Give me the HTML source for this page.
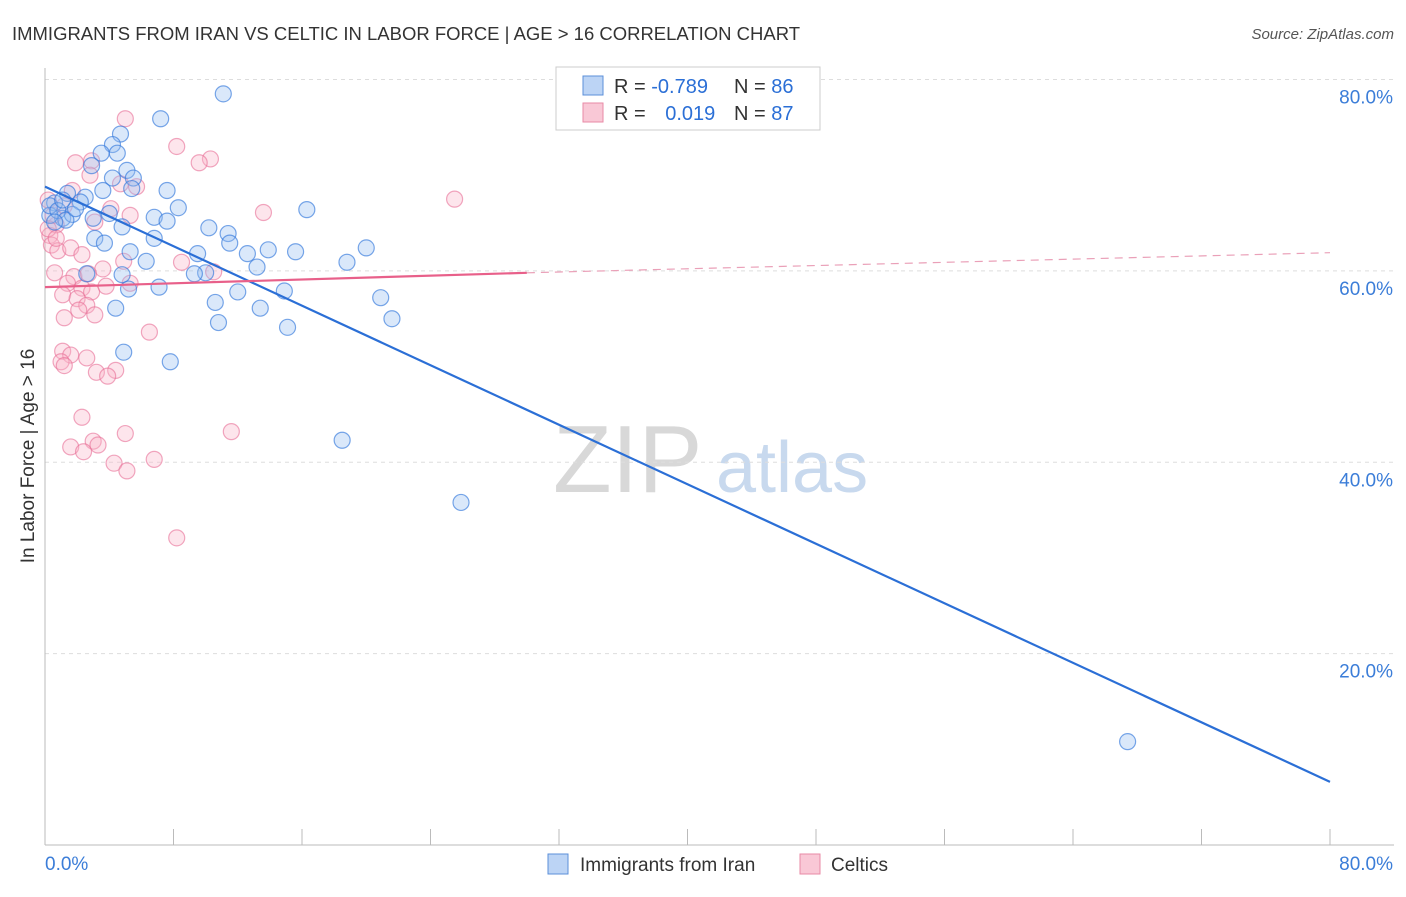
<!DOCTYPE html>
<html><head><meta charset="utf-8"><style>
body{margin:0;background:#fff;font-family:"Liberation Sans",sans-serif}
svg text{font-family:"Liberation Sans",sans-serif}
</style></head><body>
<svg id="chart" width="1406" height="892" viewBox="0 0 1406 892" xmlns="http://www.w3.org/2000/svg">
<text x="12" y="40" font-size="18" fill="#333" textLength="788" lengthAdjust="spacingAndGlyphs">IMMIGRANTS FROM IRAN VS CELTIC IN LABOR FORCE | AGE &gt; 16 CORRELATION CHART</text>
<text x="1394" y="39" font-size="15" fill="#555" text-anchor="end" font-style="italic">Source: ZipAtlas.com</text>
<g>
<text x="553" y="492" font-size="96" fill="#d8d8d8" font-family="Liberation Serif">ZIP</text>
<text x="716" y="492" font-size="72" fill="#c8d9ee">atlas</text>
</g>
<g id="grid"></g>
<g id="axes"></g>
<g id="pts"></g>
<g id="trend"></g>
<text transform="translate(34,456) rotate(-90)" font-size="19" fill="#333" text-anchor="middle">In Labor Force | Age &gt; 16</text>
<g>
<rect x="556" y="67" width="264" height="63" fill="#fff" stroke="#ccc"/>
<rect x="583" y="76" width="20" height="19" fill="#bcd4f5" stroke="#5b8fd9"/>
<rect x="583" y="103" width="20" height="19" fill="#f9c8d6" stroke="#e88aa6"/>
<text x="614" y="93" font-size="20" fill="#333">R = <tspan fill="#2b6fd6">-0.789</tspan></text>
<text x="734" y="93" font-size="20" fill="#333">N = <tspan fill="#2b6fd6">86</tspan></text>
<text x="614" y="120" font-size="20" fill="#333">R = <tspan fill="#2b6fd6" dx="14">0.019</tspan></text>
<text x="734" y="120" font-size="20" fill="#333">N = <tspan fill="#2b6fd6">87</tspan></text>
</g>
<g>
<g><rect x="548" y="854" width="20" height="20" fill="#bcd4f5" stroke="#5b8fd9"/><text x="580" y="871" font-size="19" fill="#333">Immigrants from Iran</text></g>
<g><rect x="800" y="854" width="20" height="20" fill="#f9c8d6" stroke="#e88aa6"/><text x="831" y="871" font-size="19" fill="#333">Celtics</text></g>
</g>
</svg>
<script>
const yTicks=[20,40,60,80];
const xTickLabels=["0.0%","80.0%"];
const blueX=[11.1,7.2,4.7,4.2,3.5,4.5,2.9,5.1,4.2,5.5,3.6,5.4,7.6,1.4,2.5,0.6,2.2,8.3,16.3,4.0,6.8,3.0,1.1,0.3,1.7,7.6,10.2,4.8,11.4,6.8,3.1,3.7,11.5,13.9,15.6,20.0,9.5,12.6,5.3,6.3,18.8,13.2,10.0,4.8,9.3,2.6,5.2,7.1,12.0,14.9,20.9,10.6,4.4,13.4,10.8,21.6,15.1,4.9,7.8,18.5,25.9,67.4,0.3,0.8,1.3,1.9,0.6,1.1];
const blueY=[78.5,75.9,74.3,73.2,72.3,72.3,71.0,70.5,69.7,69.7,68.4,68.6,68.4,68.1,67.7,67.1,67.2,66.6,66.4,66.0,65.6,65.5,65.5,65.8,65.9,65.2,64.5,64.6,63.9,63.4,63.4,62.9,62.9,62.2,62.0,62.4,61.8,61.8,62.0,61.0,60.9,60.4,59.8,59.6,59.7,59.7,58.1,58.3,57.8,57.9,57.2,56.7,56.1,56.1,54.6,55.0,54.1,51.5,50.5,42.3,35.8,10.8,66.8,66.3,65.3,66.5,65.1,67.4];
const pinkX=[5.0,8.2,10.3,9.6,1.9,2.9,2.8,4.7,5.7,1.7,25.5,13.6,5.3,4.1,3.1,0.7,0.3,0.4,0.8,1.6,2.3,4.9,8.5,10.5,3.6,0.6,1.8,2.7,1.4,2.3,2.9,1.1,2.0,3.8,5.3,2.6,2.1,1.2,3.1,6.5,1.1,1.6,1.0,2.6,1.2,4.4,3.2,3.9,2.3,11.6,5.0,3.0,1.6,3.3,2.4,4.3,6.8,5.1,8.2,0.2,0.5,0.2,0.7,1.2];
const pinkY=[75.9,73.0,71.7,71.3,71.3,71.5,70.0,69.1,68.8,68.4,67.5,66.1,65.8,66.5,65.1,64.8,63.7,62.7,62.1,62.4,61.7,61.0,60.9,59.9,60.2,59.8,59.4,59.7,58.7,58.2,57.8,57.5,57.1,58.4,58.7,56.4,55.9,55.1,55.4,53.6,51.6,51.2,50.5,50.9,50.1,49.6,49.4,49.0,44.7,43.2,43.0,42.2,41.6,41.8,41.1,39.9,40.3,39.1,32.1,67.4,65.8,64.4,63.4,66.8];
const blueTrend=[0,68.8,80,6.6];
const pinkTrend=[0,58.3,30,59.8,80,61.9];
const NS="http://www.w3.org/2000/svg";
const X0=45,X1=1330,Y0=845,YTOP=79.5;
const sx=v=>X0+(X1-X0)*v/80;
const sy=v=>Y0-(Y0-YTOP)*v/80;
function el(t,a,p){const e=document.createElementNS(NS,t);for(const k in a)e.setAttribute(k,a[k]);p.appendChild(e);return e;}
const grid=document.getElementById('grid');
yTicks.forEach(t=>{
const l=el('line',{x1:X0,x2:1394,y1:sy(t),y2:sy(t),stroke:'#ddd','stroke-dasharray':'4,4'},grid);


const tx=el('text',{x:1393,y:sy(t)+24,'font-size':19,fill:'#3b7dd8','text-anchor':'end'},grid);
tx.textContent=t.toFixed(1)+'%';


});
const axes=document.getElementById('axes');
el('line',{x1:X0,x2:X0,y1:68,y2:Y0,stroke:'#bbb'},axes);
el('line',{x1:X0,x2:1394,y1:Y0,y2:Y0,stroke:'#bbb'},axes);
for(let i=0;i<=10;i++){const x=sx(i*8);el('line',{x1:x,x2:x,y1:Y0,y2:Y0-16,stroke:'#bbb'},axes);}
const xl0=el('text',{x:45,y:870,'font-size':19,fill:'#3b7dd8'},axes);xl0.textContent=xTickLabels[0];


const xl1=el('text',{x:1393,y:870,'font-size':19,fill:'#3b7dd8','text-anchor':'end'},axes);xl1.textContent=xTickLabels[1];


const pts=document.getElementById('pts');
pinkX.forEach((v,i)=>{const c=el('circle',{cx:sx(v),cy:sy(pinkY[i]),r:8,fill:'rgba(248,180,200,0.35)',stroke:'rgba(232,110,150,0.6)','stroke-width':1.2},pts);

});
blueX.forEach((v,i)=>{const c=el('circle',{cx:sx(v),cy:sy(blueY[i]),r:8,fill:'rgba(150,190,240,0.35)',stroke:'rgba(50,120,220,0.65)','stroke-width':1.2},pts);

});
const tr=document.getElementById('trend');
const b=el('line',{x1:sx(blueTrend[0]),y1:sy(blueTrend[1]),x2:sx(blueTrend[2]),y2:sy(blueTrend[3]),stroke:'#2b6fd6','stroke-width':2.2},tr);


const p1=el('line',{x1:sx(pinkTrend[0]),y1:sy(pinkTrend[1]),x2:sx(pinkTrend[2]),y2:sy(pinkTrend[3]),stroke:'#e8608a','stroke-width':2.2},tr);


const p2=el('line',{x1:sx(pinkTrend[2]),y1:sy(pinkTrend[3]),x2:sx(pinkTrend[4]),y2:sy(pinkTrend[5]),stroke:'#eaa0b8','stroke-width':1.2,'stroke-dasharray':'8,6'},tr);


</script>
</body></html>
